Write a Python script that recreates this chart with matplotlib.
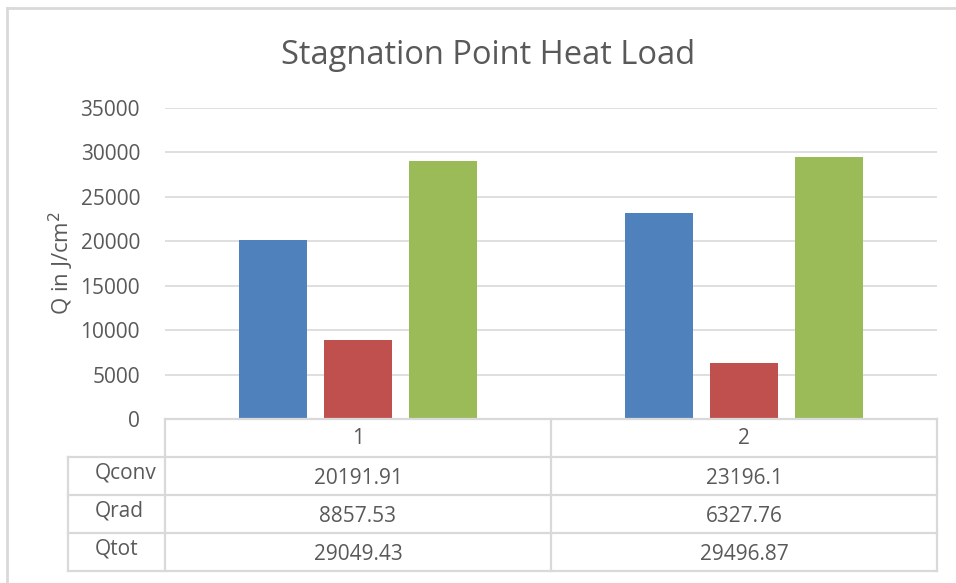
import numpy as np
import matplotlib
matplotlib.use("Agg")
import matplotlib.pyplot as plt
from matplotlib.lines import Line2D

plt.rcParams['font.family'] = ['Open Sans', 'DejaVu Sans']

categories = ["1", "2"]
series_names = ["Qconv", "Qrad", "Qtot"]
q_conv = [20191.91, 23196.1]
q_rad = [8857.53, 6327.76]
q_tot = [29049.43, 29496.87]
colors = ["#4F81BD", "#C0504D", "#9BBB59"]

W, H = 956, 583
fig = plt.figure(figsize=(W / 100, H / 100), dpi=100)

def fx(px):
    return px / W

def fy(py):
    return 1 - py / H

txt = "#595959"
grid = "#D9D9D9"

# plot area in pixels
left, right, top, bottom = 165, 937, 108, 419
ax = fig.add_axes([fx(left), fy(bottom), fx(right - left), (bottom - top) / H])

x = np.arange(len(categories))
width = 0.176
offsets = [-0.22, 0.0, 0.22]
for vals, off, c in zip([q_conv, q_rad, q_tot], offsets, colors):
    ax.bar(x + off, vals, width, color=c, zorder=3)

ax.set_xlim(-0.5, 1.5)
ax.set_ylim(0, 35000)
ax.set_yticks(np.arange(0, 35001, 5000))
ax.set_yticklabels([str(v) for v in range(0, 35001, 5000)], fontsize=15, color=txt)
ax.tick_params(axis='y', length=0, pad=18)
ax.set_xticks([])
ax.grid(axis='y', color=grid, linewidth=1.2, zorder=0)
for s in ax.spines.values():
    s.set_visible(False)
ax.set_ylabel("Q in J/cm$^2$", fontsize=16, color=txt, labelpad=3)

fig.text(fx(488), fy(55), "Stagnation Point Heat Load",
         fontsize=23.5, color=txt, ha='center', va='center')

# data table
lw = 1.6
col_x = [68, 165, 551, 937]
row_y = [419, 457, 495, 533, 571]

def hline(x0, x1, y):
    fig.add_artist(Line2D([fx(x0), fx(x1)], [fy(y), fy(y)], color=grid, lw=lw))

def vline(x, y0, y1):
    fig.add_artist(Line2D([fx(x), fx(x)], [fy(y0), fy(y1)], color=grid, lw=lw))

hline(165, 937, 419)
for y in row_y[1:]:
    hline(68, 937, y)
vline(68, 457, 571)
for xx in col_x[1:]:
    vline(xx, 419, 571)

for i, cat in enumerate(categories):
    cx = 0.5 * (col_x[i + 1] + col_x[i + 2])
    fig.text(fx(cx), fy(438), cat, fontsize=15, color=txt, ha='center', va='center')

for r, (name, vals) in enumerate(zip(series_names, [q_conv, q_rad, q_tot])):
    cy = 0.5 * (row_y[r + 1] + row_y[r + 2])
    fig.text(fx(95), fy(cy - 3), name, fontsize=15, color=txt, ha='left', va='center')
    for i, v in enumerate(vals):
        cx = 0.5 * (col_x[i + 1] + col_x[i + 2])
        fig.text(fx(cx), fy(cy + 3), str(v), fontsize=15, color=txt,
                 ha='center', va='center')

# chart area border (top and left visible)
fig.add_artist(Line2D([fx(7), 1], [fy(8), fy(8)], color=grid, lw=2))
fig.add_artist(Line2D([fx(7), fx(7)], [fy(8), 0], color=grid, lw=2))

fig.savefig("out.png", dpi=100)
